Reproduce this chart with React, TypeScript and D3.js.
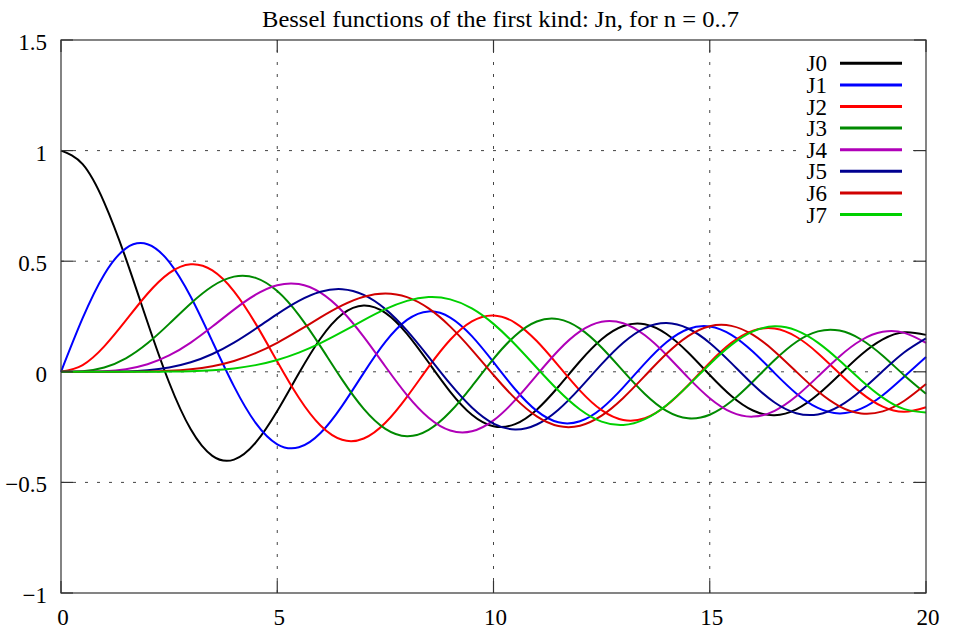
import React, { useEffect, useRef } from 'react';
import * as d3 from 'd3';

// sample points along x (step 0.5)
const xValues = [
  0, 0.5, 1, 1.5, 2, 2.5, 3, 3.5, 4, 4.5, 5, 5.5, 6, 6.5, 7, 7.5, 8, 8.5, 9, 9.5, 10,
  10.5, 11, 11.5, 12, 12.5, 13, 13.5, 14, 14.5, 15, 15.5, 16, 16.5, 17, 17.5, 18, 18.5, 19, 19.5, 20,
];

const j0 = [
  1, 0.9385, 0.7652, 0.5118, 0.2239, -0.0484, -0.2601, -0.3801, -0.3971, -0.3205, -0.1776,
  -0.0068, 0.1506, 0.2601, 0.3001, 0.2663, 0.1717, 0.0419, -0.0903, -0.1939, -0.2459,
  -0.2366, -0.1712, -0.0677, 0.0477, 0.1469, 0.2069, 0.215, 0.1711, 0.0875, -0.0142,
  -0.1092, -0.1749, -0.1963, -0.1699, -0.1031, -0.0134, 0.0772, 0.1466, 0.1789, 0.167,
];
const j1 = [
  0, 0.2423, 0.4401, 0.5579, 0.5767, 0.4971, 0.3391, 0.1374, -0.066, -0.2311, -0.3276,
  -0.3414, -0.2767, -0.1538, -0.0047, 0.1352, 0.2346, 0.2731, 0.2453, 0.1613, 0.0435,
  -0.0789, -0.1768, -0.2284, -0.2234, -0.1655, -0.0703, 0.038, 0.1334, 0.1934, 0.2051,
  0.1671, 0.0904, -0.0058, -0.0977, -0.1634, -0.188, -0.1666, -0.1057, -0.0209, 0.0668,
];
const j2 = [
  0, 0.0306, 0.1149, 0.2321, 0.3528, 0.4461, 0.4861, 0.4586, 0.3641, 0.2178, 0.0466,
  -0.1173, -0.2429, -0.3074, -0.3014, -0.2303, -0.113, 0.0224, 0.1448, 0.2279, 0.2546,
  0.2216, 0.139, 0.028, -0.0849, -0.1734, -0.2177, -0.2094, -0.152, -0.0608, 0.0416,
  0.1308, 0.1862, 0.1956, 0.1584, 0.0844, -0.0075, -0.0952, -0.1577, -0.181, -0.1603,
];
const j3 = [
  0, 0.0026, 0.0196, 0.061, 0.1289, 0.2166, 0.3091, 0.3868, 0.4302, 0.4247, 0.3648,
  0.2561, 0.1148, -0.0354, -0.1676, -0.258, -0.2911, -0.2626, -0.1809, -0.0654, 0.0584,
  0.1633, 0.2274, 0.2381, 0.1951, 0.11, 0.0033, -0.1, -0.1768, -0.2102, -0.194,
  -0.1334, -0.0438, 0.0532, 0.1349, 0.1827, 0.1863, 0.146, 0.0725, -0.0162, -0.0989,
];
const j4 = [
  0, 0.0002, 0.0025, 0.0118, 0.034, 0.0738, 0.132, 0.2044, 0.2811, 0.3484, 0.3912,
  0.3967, 0.3576, 0.2748, 0.1578, 0.0239, -0.1054, -0.2077, -0.2655, -0.2691, -0.2196,
  -0.1283, -0.015, 0.0963, 0.1825, 0.2262, 0.2193, 0.1649, 0.0762, -0.0262, -0.1192,
  -0.1824, -0.2026, -0.1763, -0.1107, -0.0218, 0.0696, 0.1426, 0.1806, 0.176, 0.1307,
];
const j5 = [
  0, 0, 0.0002, 0.0018, 0.007, 0.0195, 0.043, 0.0804, 0.1321, 0.1947, 0.2611,
  0.3209, 0.3621, 0.3736, 0.3479, 0.2834, 0.1858, 0.0671, -0.055, -0.1613, -0.2341,
  -0.261, -0.2383, -0.1712, -0.0735, 0.0347, 0.1316, 0.1978, 0.2204, 0.1958, 0.1305,
  0.0392, -0.0575, -0.1387, -0.187, -0.1927, -0.1554, -0.0844, 0.0036, 0.0885, 0.1512,
];
const j6 = [
  0, 0, 0, 0.0002, 0.0012, 0.0042, 0.0114, 0.0254, 0.0491, 0.0843, 0.131,
  0.1868, 0.2458, 0.2999, 0.3392, 0.3541, 0.3376, 0.2866, 0.2043, 0.0994, -0.0145,
  -0.1203, -0.2016, -0.2451, -0.2437, -0.1984, -0.118, -0.0184, 0.0812, 0.1612, 0.2061,
  0.2077, 0.1667, 0.0922, 0.0007, -0.0883, -0.156, -0.1882, -0.1788, -0.1307, -0.0551,
];
const j7 = [
  0, 0, 0, 0, 0.0002, 0.0008, 0.0025, 0.0067, 0.0152, 0.0302, 0.0534,
  0.0866, 0.1296, 0.1802, 0.2336, 0.2831, 0.3206, 0.3376, 0.3275, 0.2868, 0.2167,
  0.1235, 0.0184, -0.0846, -0.1703, -0.2252, -0.2406, -0.2141, -0.1508, -0.0624, 0.0345,
  0.1216, 0.1825, 0.2057, 0.1875, 0.1321, 0.0514, -0.0377, -0.1165, -0.1689, -0.1842,
];

const seriesNames = ['J0', 'J1', 'J2', 'J3', 'J4', 'J5', 'J6', 'J7'];
const seriesValues = [j0, j1, j2, j3, j4, j5, j6, j7];
const seriesColors = ['#000000', '#0000ff', '#ff0000', '#008a00', '#b000b8', '#000090', '#d00000', '#00d000'];

const xTicks = [0, 5, 10, 15, 20];
const yTicks = [-1, -0.5, 0, 0.5, 1, 1.5];
const xGrid = [5, 10, 15];
const yGrid = [-0.5, 0, 0.5, 1];

const title = 'Bessel functions of the first kind: Jn, for n = 0..7';

const W = 965;
const H = 636;
const FONT = '"Liberation Serif", "Times New Roman", serif';

const App = () => {
  const svgRef = useRef<SVGSVGElement | null>(null);

  useEffect(() => {
    if (!svgRef.current) return;
    const svg = d3.select(svgRef.current);
    svg.selectAll('*').remove();

    const left = 61, right = 926, top = 40, bottom = 593;

    const x = d3.scaleLinear().domain([0, 20]).range([left, right]);
    const y = d3.scaleLinear().domain([-1, 1.5]).range([bottom, top]);

    svg.append('rect').attr('width', W).attr('height', H).attr('fill', '#fff');

    // grid
    const grid = svg.append('g')
      .attr('stroke', '#444')
      .attr('stroke-width', 1)
      .attr('stroke-dasharray', '3,9');
    grid.selectAll('line.v')
      .data(xGrid)
      .enter()
      .append('line')
      .attr('x1', d => x(d))
      .attr('x2', d => x(d))
      .attr('y1', bottom)
      .attr('y2', top);
    grid.selectAll('line.h')
      .data(yGrid)
      .enter()
      .append('line')
      .attr('x1', left)
      .attr('x2', right)
      .attr('y1', d => y(d))
      .attr('y2', d => y(d));

    // legend background (opaque key)
    svg.append('rect')
      .attr('x', 803)
      .attr('y', 52)
      .attr('width', 108)
      .attr('height', 172)
      .attr('fill', '#fff');

    // curves
    const line = d3.line<number>()
      .x((_, i) => x(xValues[i]))
      .y(d => y(d))
      .curve(d3.curveNatural);

    seriesValues.forEach((vals, i) => {
      svg.append('path')
        .datum(vals)
        .attr('fill', 'none')
        .attr('stroke', seriesColors[i])
        .attr('stroke-width', 2)
        .attr('stroke-linejoin', 'round')
        .attr('d', line);
    });

    // border + ticks
    const axis = svg.append('g').attr('stroke', '#333').attr('stroke-width', 1.2);
    axis.append('rect')
      .attr('x', left)
      .attr('y', top)
      .attr('width', right - left)
      .attr('height', bottom - top)
      .attr('fill', 'none');
    const tickLen = 12;
    xTicks.forEach(t => {
      axis.append('line').attr('x1', x(t)).attr('x2', x(t)).attr('y1', bottom).attr('y2', bottom - tickLen);
      axis.append('line').attr('x1', x(t)).attr('x2', x(t)).attr('y1', top).attr('y2', top + tickLen);
    });
    yTicks.forEach(t => {
      axis.append('line').attr('x1', left).attr('x2', left + tickLen).attr('y1', y(t)).attr('y2', y(t));
      axis.append('line').attr('x1', right).attr('x2', right - tickLen).attr('y1', y(t)).attr('y2', y(t));
    });

    // tick labels
    const fmt = (d: number) => (d < 0 ? '\u2212' + String(-d) : String(d));
    svg.append('g')
      .selectAll('text')
      .data(xTicks)
      .enter()
      .append('text')
      .attr('x', d => x(d) + 2)
      .attr('y', 625)
      .attr('text-anchor', 'middle')
      .attr('font-family', FONT)
      .attr('font-size', 23)
      .attr('fill', '#000')
      .text(d => fmt(d));
    svg.append('g')
      .selectAll('text')
      .data(yTicks)
      .enter()
      .append('text')
      .attr('x', 47)
      .attr('y', d => y(d) + 10)
      .attr('text-anchor', 'end')
      .attr('font-family', FONT)
      .attr('font-size', 23)
      .attr('fill', '#000')
      .text(d => fmt(d));

    // title
    svg.append('text')
      .attr('x', 500.5)
      .attr('y', 27)
      .attr('text-anchor', 'middle')
      .attr('font-family', FONT)
      .attr('font-size', 23)
      .attr('textLength', 477)
      .attr('lengthAdjust', 'spacingAndGlyphs')
      .attr('fill', '#000')
      .text(title);

    // legend
    const legend = svg.append('g');
    seriesNames.forEach((name, i) => {
      const ly = 63.3 + i * 21.6;
      legend.append('text')
        .attr('x', 827)
        .attr('y', ly + 8)
        .attr('text-anchor', 'end')
        .attr('font-family', FONT)
        .attr('font-size', 23)
        .attr('fill', '#000')
        .text(name);
      legend.append('line')
        .attr('x1', 840)
        .attr('x2', 902)
        .attr('y1', ly)
        .attr('y2', ly)
        .attr('stroke', seriesColors[i])
        .attr('stroke-width', 3);
    });
  }, []);

  return (
    <div style={{ position: 'absolute', left: 0, top: 0 }}>
      <svg ref={svgRef} width={W} height={H} style={{ display: 'block' }}></svg>
    </div>
  );
};

export default App;
